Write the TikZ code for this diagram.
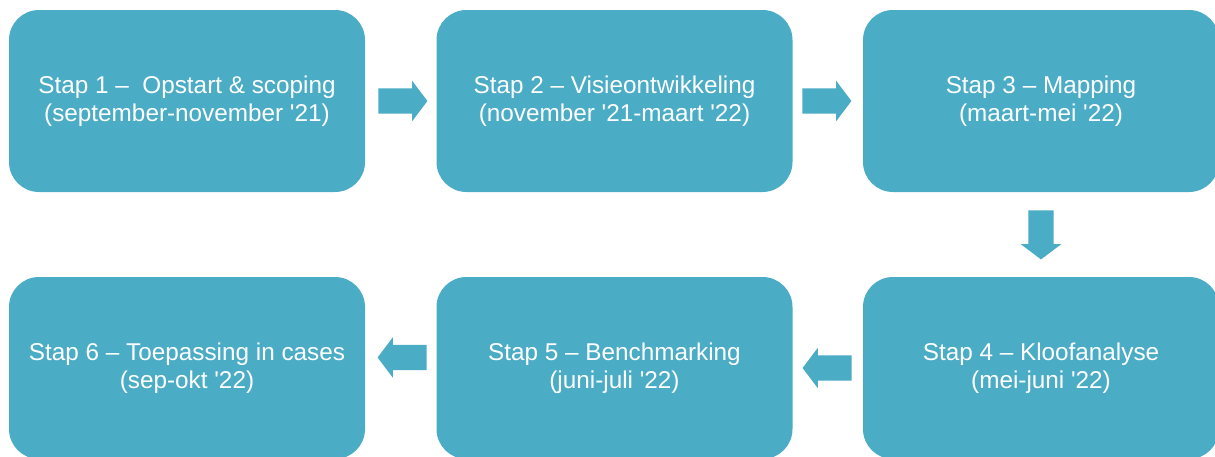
\documentclass[tikz,border=0pt]{standalone}
\usepackage{fontspec}
\setmainfont{Liberation Sans}
\usetikzlibrary{shapes.arrows,calc}
\definecolor{stepblue}{HTML}{4BACC6}
\tikzset{
  stepbox/.style={fill=stepblue, draw=none, rounded corners=30pt,
    minimum width=356pt, minimum height=182pt, inner sep=0pt,
    align=center, text=white,
    font=\fontsize{24.3}{27.5}\selectfont},
  flow/.style={single arrow, fill=stepblue, draw=none, anchor=tail,
    inner xsep=0pt, inner ysep=12.5pt,
    minimum height=49pt,
    single arrow head extend=7.5pt, single arrow tip angle=106},
  flowdown/.style={flow, inner xsep=12.5pt, inner ysep=0pt,
    shape border rotate=270},
}
\begin{document}
\begin{tikzpicture}[x=1pt,y=1pt]
  \clip (0,0) rectangle (1215,-456);
  \fill[white] (0,0) rectangle (1215,-456);

  % top row
  \node[stepbox] (s1) at (187,-101)
    {Stap 1 –~ Opstart \& scoping\\(september-november \textquotesingle21)};
  \node[stepbox] (s2) at (614.5,-101)
    {Stap 2 – Visieontwikkeling\\(november \textquotesingle21-maart \textquotesingle22)};
  \node[stepbox] (s3) at (1041,-101)
    {Stap 3 – Mapping\\(maart-mei \textquotesingle22)};

  % bottom row
  \node[stepbox] (s4) at (1041,-368)
    {Stap 4 – Kloofanalyse\\(mei-juni \textquotesingle22)};
  \node[stepbox] (s5) at (614.5,-368)
    {Stap 5 – Benchmarking\\(juni-juli \textquotesingle22)};
  \node[stepbox] (s6) at (187,-368)
    {Stap 6 – Toepassing in cases\\(sep-okt \textquotesingle22)};

  % block arrows between the steps
  \node[flow, shape border rotate=0]   (a12) at ($(s1.east)+(13,0)$) {};
  \node[flow, shape border rotate=0]   (a23) at ($(s2.east)+(9.5,0)$) {};
  \node[flowdown]                      (a34) at ($(s3.south)+(0,-18)$) {};
  \node[flow, shape border rotate=180] (a45) at ($(s4.west)+(-11,0)$) {};
  \node[flow, shape border rotate=180] (a56) at ($(s5.west)+(-9.5,10.5)$) {};
\end{tikzpicture}
\end{document}
